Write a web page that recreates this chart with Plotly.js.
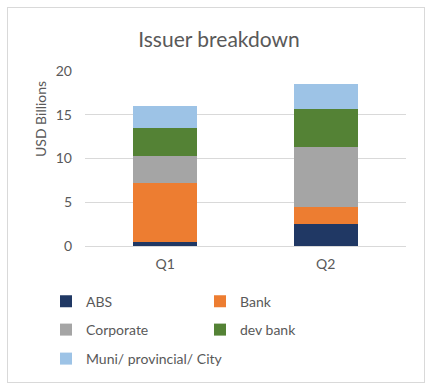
<!DOCTYPE html>
<html>
<head>
<meta charset="utf-8">
<script src="https://cdn.plot.ly/plotly-3.0.1.min.js"></script>
<style>
  html, body { margin: 0; padding: 0; background: #fff; }
  #wrap { position: relative; width: 431px; height: 389px; }
  #chart { width: 431px; height: 389px; }
  #frame { position: absolute; left: 7px; top: 7px; width: 416px; height: 374px; border: 1px solid #D9D9D9; pointer-events: none; }
</style>
</head>
<body>
<div id="wrap"><div id="chart"></div><div id="frame"></div></div>
<script>
const categories = ["Q1", "Q2"];
const absValues = [0.5, 2.5];
const bankValues = [6.7, 1.95];
const corporateValues = [3.1, 6.85];
const devBankValues = [3.2, 4.4];
const muniValues = [2.55, 2.85];
const seriesNames = ["ABS", "Bank", "Corporate", "dev bank", "Muni/ provincial/ City"];
const yTicks = [0, 5, 10, 15, 20];

const colors = ["#203864", "#ED7D31", "#A5A5A5", "#548235", "#9DC3E6"];
const legends = ["legend", "legend", "legend2", "legend2", "legend3"];
const vals = [absValues, bankValues, corporateValues, devBankValues, muniValues];

const FONT = "Lato, 'Open Sans', sans-serif";
const TXT = "#595959";

const traces = seriesNames.map((n, i) => ({
  type: "bar",
  name: n,
  x: categories,
  y: vals[i],
  marker: { color: colors[i] },
  legend: legends[i],
  hoverinfo: "x+y+name"
}));

const legBase = {
  orientation: "h",
  traceorder: "normal",
  xanchor: "left",
  yanchor: "middle",
  x: (46 - 85) / 321,
  entrywidth: 109,
  entrywidthmode: "pixels",
  font: { family: FONT, size: 14, color: TXT },
  bgcolor: "rgba(0,0,0,0)",
  itemclick: false,
  itemdoubleclick: false
};

const layout = {
  width: 431,
  height: 389,
  margin: { l: 85, r: 25, t: 71, b: 143 },
  paper_bgcolor: "#fff",
  plot_bgcolor: "#fff",
  barmode: "stack",
  bargap: 0.6,
  showlegend: true,
  font: { family: FONT, color: TXT },
  title: {
    text: "Issuer breakdown",
    font: { family: FONT, size: 21, color: TXT },
    x: 0.508, xanchor: "center",
    y: 1 - 40 / 389, yanchor: "middle", yref: "container"
  },
  xaxis: {
    tickfont: { family: FONT, size: 14, color: TXT },
    showline: false,
    ticks: "",
    ticklabelstandoff: 8,
    fixedrange: true
  },
  yaxis: {
    range: [0, 20],
    tickvals: yTicks,
    ticktext: yTicks.map(String),
    tickfont: { family: FONT, size: 14, color: TXT },
    gridcolor: "#D9D9D9",
    gridwidth: 1,
    zeroline: true,
    zerolinecolor: "#D9D9D9",
    zerolinewidth: 1,
    showline: false,
    ticks: "",
    ticklabelstandoff: 12,
    fixedrange: true
  },
  annotations: [{
    text: "USD Billions",
    textangle: -90,
    xref: "paper", yref: "paper",
    x: (40 - 85) / 321, y: (246 - 119) / 175,
    xanchor: "center", yanchor: "middle",
    showarrow: false,
    font: { family: FONT, size: 14, color: TXT }
  }],
  legend: Object.assign({}, legBase, { y: (246 - 301.7) / 175 }),
  legend2: Object.assign({}, legBase, { y: (246 - 330) / 175 }),
  legend3: Object.assign({}, legBase, { y: (246 - 359) / 175, entrywidth: 250 })
};

Plotly.newPlot("chart", traces, layout, { displayModeBar: false });
</script>
</body>
</html>
